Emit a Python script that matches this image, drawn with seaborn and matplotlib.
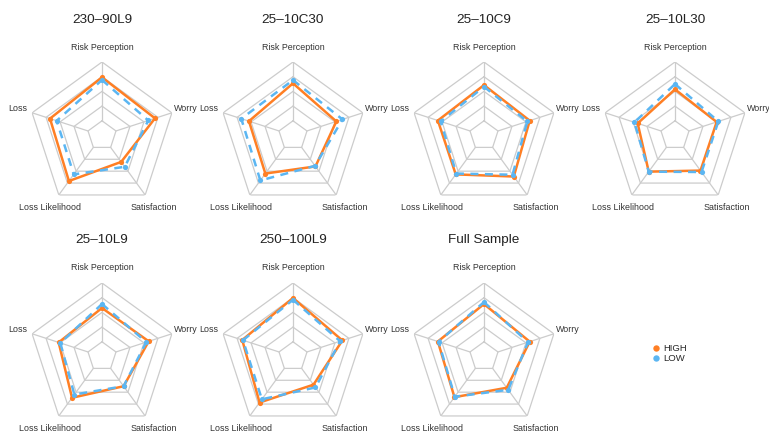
import numpy as np
import matplotlib
matplotlib.use("Agg")
import matplotlib.pyplot as plt
from matplotlib.lines import Line2D
import seaborn as sns

# Radar dimensions, clockwise from the top
categories = ["Risk Perception", "Worry", "Satisfaction", "Loss Likelihood", "Loss"]

panel_titles = ["230\u201390L9", "25\u201310C30", "25\u201310C9", "25\u201310L30",
                "25\u201310L9", "250\u2013100L9", "Full Sample"]

# Group means per treatment (scale 0-5)
high_230_90L9 = [3.96, 3.79, 2.22, 3.83, 3.72]
low_230_90L9 = [3.78, 3.31, 2.63, 3.27, 3.24]

high_25_10C30 = [3.55, 3.10, 2.60, 3.20, 3.15]
low_25_10C30 = [3.77, 3.54, 2.55, 3.78, 3.70]

high_25_10C9 = [3.43, 3.27, 3.45, 3.27, 3.30]
low_25_10C9 = [3.32, 3.10, 3.30, 3.20, 3.10]

high_25_10L30 = [3.14, 2.98, 2.95, 3.04, 2.67]
low_25_10L30 = [3.50, 3.10, 3.07, 3.04, 2.90]

high_25_10L9 = [3.30, 3.34, 2.50, 3.47, 3.10]
low_25_10L9 = [3.57, 3.17, 2.50, 3.20, 2.98]

high_250_100L9 = [3.98, 3.53, 2.37, 3.87, 3.63]
low_250_100L9 = [3.86, 3.37, 2.60, 3.60, 3.58]

high_full = [3.57, 3.27, 2.63, 3.42, 3.30]
low_full = [3.70, 3.15, 2.80, 3.38, 3.25]

high_series = [high_230_90L9, high_25_10C30, high_25_10C9, high_25_10L30,
               high_25_10L9, high_250_100L9, high_full]
low_series = [low_230_90L9, low_25_10C30, low_25_10C9, low_25_10L30,
              low_25_10L9, low_250_100L9, low_full]

group_names = ["HIGH", "LOW"]
rings = [1, 2, 3, 4, 5]
r_max = 5

HIGH_COLOR = "#ff7f24"
LOW_COLOR = "#5bb6f2"
GRID_COLOR = "#cccccc"

sns.set_theme(style="white")
plt.rcParams["font.family"] = ["Liberation Sans", "DejaVu Sans"]

W, H = 769, 434
fig = plt.figure(figsize=(W / 100, H / 100), dpi=100)
fig.patch.set_facecolor("white")

# Panel centres in pixels and the radar radius
col_x = [102, 293, 484, 675]
row_y = [135.5, 356.5]
title_y = [20, 240]
R_PX = 73.5
LABEL_GAP_PX = 15

n = len(categories)
theta = np.linspace(0, 2 * np.pi, n, endpoint=False)
theta_closed = np.append(theta, 2 * np.pi)

for i, title in enumerate(panel_titles):
    row, col = divmod(i, 4)
    cx, cy = col_x[col], row_y[row]
    ax = fig.add_axes([(cx - R_PX) / W, 1 - (cy + R_PX) / H,
                       2 * R_PX / W, 2 * R_PX / H], projection="polar")
    ax.set_theta_offset(np.pi / 2)
    ax.set_theta_direction(-1)
    ax.set_ylim(0, r_max)
    ax.grid(False)
    ax.set_xticks([])
    ax.set_yticks([])
    ax.spines["polar"].set_visible(False)
    ax.set_facecolor("none")

    # pentagon rings and spokes
    for r in rings:
        ax.plot(theta_closed, [r] * (n + 1), color=GRID_COLOR, lw=0.9, zorder=1)
    for t in theta:
        ax.plot([t, t], [rings[0], rings[-1]], color=GRID_COLOR, lw=0.9, zorder=1)

    hv = high_series[i]
    lv = low_series[i]
    sns.lineplot(x=theta_closed, y=np.append(hv, hv[0]), sort=False, estimator=None,
                 color=HIGH_COLOR, lw=1.8, ax=ax, zorder=3)
    sns.scatterplot(x=theta, y=hv, color=HIGH_COLOR, s=14, linewidth=0, ax=ax, zorder=4)
    sns.lineplot(x=theta_closed, y=np.append(lv, lv[0]), sort=False, estimator=None,
                 color=LOW_COLOR, lw=1.8, ax=ax, zorder=5)
    ax.lines[-1].set_dashes([3.2, 2.6])
    sns.scatterplot(x=theta, y=lv, color=LOW_COLOR, s=14, linewidth=0, ax=ax, zorder=6)
    ax.set_xlabel("")
    ax.set_ylabel("")

    label_r = r_max * (1 + LABEL_GAP_PX / R_PX)
    for t, name in zip(theta, categories):
        ax.text(t, label_r, name, ha="center", va="center", fontsize=6.4,
                color="#333333", clip_on=False, zorder=7)

    fig.text(cx / W, 1 - title_y[row] / H, title, ha="center", va="center",
             fontsize=9.7, color="#222222")

handles = [Line2D([], [], marker="o", ls="none", markersize=4.6,
                  markerfacecolor=c, markeredgewidth=0)
           for c in (HIGH_COLOR, LOW_COLOR)]
fig.legend(handles, group_names, loc="upper left",
           bbox_to_anchor=(652 / W, 1 - 344 / H), frameon=False,
           fontsize=6.8, handlelength=0.8, handletextpad=0.4,
           labelspacing=0.15, borderpad=0, borderaxespad=0)

fig.savefig("out.png", dpi=100, facecolor="white")
